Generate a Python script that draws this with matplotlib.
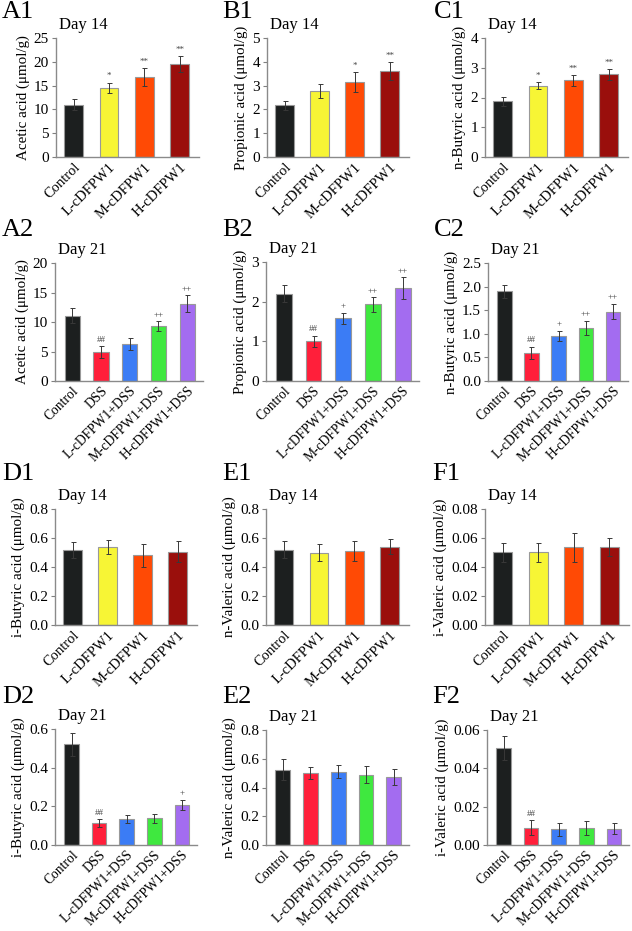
import matplotlib
matplotlib.use("Agg")
import matplotlib.pyplot as plt

plt.rcParams["font.family"] = ["Liberation Serif", "DejaVu Serif"]

# --------------------------------------------------------
# Data
# --------------------------------------------------------
groups_d14 = ["Control", "L-cDFPW1", "M-cDFPW1", "H-cDFPW1"]
groups_d21 = ["Control", "DSS", "L-cDFPW1+DSS", "M-cDFPW1+DSS", "H-cDFPW1+DSS"]

colors_d14 = ["#1c1f1f", "#f7f535", "#ff4a05", "#9a0f0c"]
colors_d21 = ["#1c1f1f", "#ff1f3a", "#3b7cf5", "#3fe83f", "#a36cf0"]

# Day 14
acetic_d14 = [11.0, 14.5, 16.8, 19.5]
acetic_d14_err = [1.2, 1.1, 1.8, 1.7]
acetic_d14_sig = ["", "*", "**", "**"]

propionic_d14 = [2.17, 2.77, 3.15, 3.62]
propionic_d14_err = [0.2, 0.28, 0.42, 0.38]
propionic_d14_sig = ["", "", "*", "**"]

nbutyric_d14 = [1.87, 2.40, 2.58, 2.78]
nbutyric_d14_err = [0.15, 0.12, 0.18, 0.18]
nbutyric_d14_sig = ["", "*", "**", "**"]

ibutyric_d14 = [0.52, 0.535, 0.48, 0.505]
ibutyric_d14_err = [0.055, 0.048, 0.077, 0.072]

nvaleric_d14 = [0.52, 0.50, 0.51, 0.54]
nvaleric_d14_err = [0.06, 0.057, 0.07, 0.052]

ivaleric_d14 = [0.0502, 0.0501, 0.0535, 0.0538]
ivaleric_d14_err = [0.0066, 0.0064, 0.0101, 0.0059]

# Day 21
acetic_d21 = [11.1, 4.9, 6.3, 9.3, 13.1]
acetic_d21_err = [1.2, 1.0, 1.0, 0.8, 1.4]
acetic_d21_sig = ["", "##", "", "++", "++"]

propionic_d21 = [2.20, 1.00, 1.58, 1.93, 2.34]
propionic_d21_err = [0.22, 0.14, 0.14, 0.18, 0.27]
propionic_d21_sig = ["", "##", "+", "++", "++"]

nbutyric_d21 = [1.90, 0.60, 0.95, 1.13, 1.47]
nbutyric_d21_err = [0.14, 0.13, 0.11, 0.15, 0.16]
nbutyric_d21_sig = ["", "##", "+", "++", "++"]

ibutyric_d21 = [0.52, 0.115, 0.135, 0.138, 0.208]
ibutyric_d21_err = [0.06, 0.02, 0.021, 0.022, 0.026]
ibutyric_d21_sig = ["", "##", "", "", "+"]

nvaleric_d21 = [0.525, 0.50, 0.51, 0.488, 0.473]
nvaleric_d21_err = [0.075, 0.042, 0.046, 0.06, 0.055]

ivaleric_d21 = [0.0505, 0.0090, 0.0082, 0.0087, 0.0085]
ivaleric_d21_err = [0.0062, 0.0040, 0.0033, 0.0036, 0.0028]
ivaleric_d21_sig = ["", "##", "", "", ""]

# --------------------------------------------------------
# Figure
# --------------------------------------------------------
W, H = 632, 931
fig = plt.figure(figsize=(W / 100, H / 100), dpi=100)


def px_axes(left, top, right, bottom):
    return fig.add_axes([left / W, 1 - bottom / H, (right - left) / W, (bottom - top) / H])


def draw_panel(box, label, lx, ly, day, groups, values, errs, colors,
               ylabel, ymax, ystep, fmt, sig=None):
    ax = px_axes(*box)
    x = list(range(len(groups)))
    ax.bar(x, values, width=0.53, color=colors, edgecolor="#999999", linewidth=0.8, zorder=2)
    ax.errorbar(x, values, yerr=errs, fmt="none", ecolor="#383838",
                elinewidth=0.7, capsize=1.8, capthick=0.7, zorder=3)
    if sig:
        for xi, v, e, s in zip(x, values, errs, sig):
            if s:
                ax.text(xi, v + e + ymax * 0.02, s, ha="center", va="bottom",
                        fontsize=6.5, color="#444444")
    n = len(groups)
    ax.set_xlim(-0.5 if n == 4 else -0.6, n - 0.45)
    ax.set_ylim(0, ymax)
    ticks = [i * ystep for i in range(int(round(ymax / ystep)) + 1)]
    ax.set_yticks(ticks)
    ax.set_yticklabels([fmt.format(t) for t in ticks], fontsize=11)
    ax.set_xticks(x)
    ax.set_xticklabels(groups, rotation=45, ha="right", rotation_mode="anchor",
                       fontsize=10.5 if n == 4 else 9.8)
    ax.tick_params(axis="x", length=0, pad=2.5)
    ax.tick_params(axis="y", length=3, width=0.8, color="#808080", pad=2)
    for side in ["top", "right"]:
        ax.spines[side].set_visible(False)
    for side in ["left", "bottom"]:
        ax.spines[side].set_color("#8a8a8a")
        ax.spines[side].set_linewidth(1.0)
    ax.set_ylabel(ylabel, fontsize=10.8, labelpad=3)
    ax.text(0.02, 1.04, day, transform=ax.transAxes, fontsize=12, va="bottom", ha="left")
    fig.text(lx / W, 1 - ly / H, label, fontsize=19, va="center", ha="left")
    return ax


# Row 1: Day 14
draw_panel((56, 38, 199, 157), "A1", 2, 12, "Day 14", groups_d14, acetic_d14, acetic_d14_err,
           colors_d14, "Acetic acid (μmol/g)", 25, 5, "{:.0f}", acetic_d14_sig)
draw_panel((267, 38, 409, 157), "B1", 222, 12, "Day 14", groups_d14, propionic_d14, propionic_d14_err,
           colors_d14, "Propionic acid (μmol/g)", 5, 1, "{:.0f}", propionic_d14_sig)
draw_panel((485, 38, 628, 157), "C1", 434, 12, "Day 14", groups_d14, nbutyric_d14, nbutyric_d14_err,
           colors_d14, "n-Butyric acid (μmol/g)", 4, 1, "{:.0f}", nbutyric_d14_sig)

# Row 2: Day 21
draw_panel((55, 263, 203, 381), "A2", 2, 230, "Day 21", groups_d21, acetic_d21, acetic_d21_err,
           colors_d21, "Acetic acid (μmol/g)", 20, 5, "{:.0f}", acetic_d21_sig)
draw_panel((266, 262, 419, 381), "B2", 222, 230, "Day 21", groups_d21, propionic_d21, propionic_d21_err,
           colors_d21, "Propionic acid (μmol/g)", 3, 1, "{:.0f}", propionic_d21_sig)
draw_panel((488, 263, 628, 381), "C2", 434, 230, "Day 21", groups_d21, nbutyric_d21, nbutyric_d21_err,
           colors_d21, "n-Butyric acid (μmol/g)", 2.5, 0.5, "{:.1f}", nbutyric_d21_sig)

# Row 3: Day 14
draw_panel((55, 509, 197, 625), "D1", 2, 474, "Day 14", groups_d14, ibutyric_d14, ibutyric_d14_err,
           colors_d14, "i-Butyric acid (μmol/g)", 0.8, 0.2, "{:.1f}")
draw_panel((266, 509, 409, 625), "E1", 222, 474, "Day 14", groups_d14, nvaleric_d14, nvaleric_d14_err,
           colors_d14, "n-Valeric acid (μmol/g)", 0.8, 0.2, "{:.1f}")
draw_panel((485, 509, 629, 625), "F1", 432, 474, "Day 14", groups_d14, ivaleric_d14, ivaleric_d14_err,
           colors_d14, "i-Valeric acid (μmol/g)", 0.08, 0.02, "{:.2f}")

# Row 4: Day 21
draw_panel((55, 729, 197, 845), "D2", 2, 697, "Day 21", groups_d21, ibutyric_d21, ibutyric_d21_err,
           colors_d21, "i-Butyric acid (μmol/g)", 0.6, 0.2, "{:.1f}", ibutyric_d21_sig)
draw_panel((266, 730, 409, 845), "E2", 222, 697, "Day 21", groups_d21, nvaleric_d21, nvaleric_d21_err,
           colors_d21, "n-Valeric acid (μmol/g)", 0.8, 0.2, "{:.1f}")
draw_panel((487, 730, 629, 845), "F2", 432, 697, "Day 21", groups_d21, ivaleric_d21, ivaleric_d21_err,
           colors_d21, "i-Valeric acid (μmol/g)", 0.06, 0.02, "{:.2f}", ivaleric_d21_sig)

fig.savefig("out.png", dpi=100)
